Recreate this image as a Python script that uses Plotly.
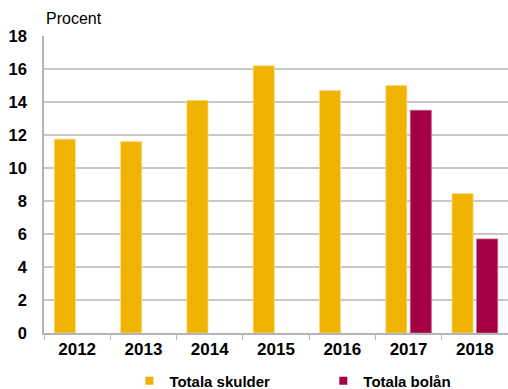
import plotly.graph_objects as go

years = ["2012", "2013", "2014", "2015", "2016", "2017", "2018"]
totala_skulder = [11.75, 11.6, 14.1, 16.2, 14.7, 15.0, 8.45]
totala_bolan = [None, None, None, None, None, 13.5, 5.7]
y_ticks = [0, 2, 4, 6, 8, 10, 12, 14, 16, 18]

GOLD = "#F0B400"
CRIMSON = "#A50044"
FONT = "Liberation Sans, Arial, sans-serif"

series = [
    ("Totala skulder", totala_skulder, GOLD, "#F8DC88", "legend"),
    ("Totala bolån", totala_bolan, CRIMSON, "#C8628A", "legend2"),
]

fig = go.Figure()
for name, values, color, edge, legend_id in series:
    fig.add_trace(go.Bar(
        x=years, y=values, name=name, legendgroup=name, showlegend=False,
        marker=dict(color=color, line=dict(color=edge, width=0.8)),
    ))
    # small square key for the legend row
    fig.add_trace(go.Scatter(
        x=[None], y=[None], mode="markers", name=name, legendgroup=name,
        legend=legend_id,
        marker=dict(symbol="square", size=8, color=color, line=dict(width=0)),
    ))

legend_style = dict(
    orientation="h", yanchor="middle", y=-0.162, xanchor="left",
    font=dict(size=15, family=FONT, weight="bold"),
    bgcolor="rgba(0,0,0,0)", itemwidth=30,
)

fig.update_layout(
    width=508, height=389,
    margin=dict(l=44, r=0, t=36, b=56, autoexpand=False),
    paper_bgcolor="white", plot_bgcolor="white",
    barmode="group", bargap=0.26, bargroupgap=0.14,
    font=dict(family=FONT, color="#000000"),
    showlegend=True,
    legend=dict(legend_style, x=0.184),
    legend2=dict(legend_style, x=0.602),
    annotations=[dict(
        text="Procent", xref="paper", yref="paper", x=0, y=1.06,
        xanchor="left", yanchor="middle", showarrow=False,
        font=dict(size=16, family=FONT),
    )],
)
fig.update_xaxes(
    type="category", categoryorder="array", categoryarray=years,
    showline=True, linecolor="#B4B4B4", linewidth=1.5,
    ticks="outside", tickson="boundaries", ticklen=5, tickcolor="#B4B4B4",
    tickfont=dict(size=17, family=FONT, weight="bold"),
    showgrid=False,
)
fig.update_yaxes(
    range=[0, 18], tickvals=y_ticks, showline=True, linecolor="#B4B4B4",
    linewidth=1.5, showgrid=True, gridcolor="#C8C8C8", gridwidth=1.5,
    ticks="", tickfont=dict(size=16.5, family=FONT, weight="bold"),
    ticklabelstandoff=12, zeroline=False,
)

fig.write_html("out.html")
